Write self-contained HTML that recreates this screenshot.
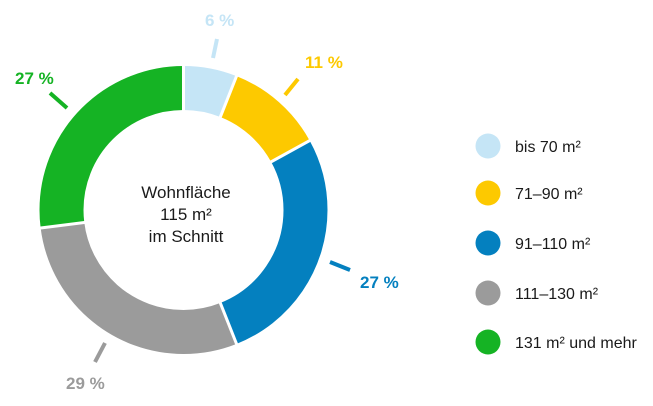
<!DOCTYPE html>
<html><head><meta charset="utf-8"><style>
body{margin:0;background:#fff;}
svg text{font-family:"Liberation Sans",sans-serif;}
</style></head><body>
<svg width="653" height="401" xmlns="http://www.w3.org/2000/svg">
<g transform="rotate(-90 183.5 210)" fill="none" stroke-width="44">
<circle cx="183.5" cy="210" r="122" stroke="#c5e5f6" stroke-dasharray="45.99 800" stroke-dashoffset="0"/>
<circle cx="183.5" cy="210" r="122" stroke="#fdc900" stroke-dasharray="84.32 800" stroke-dashoffset="-45.99"/>
<circle cx="183.5" cy="210" r="122" stroke="#0480bf" stroke-dasharray="206.97 800" stroke-dashoffset="-130.31"/>
<circle cx="183.5" cy="210" r="122" stroke="#9b9b9b" stroke-dasharray="222.3 800" stroke-dashoffset="-337.28"/>
<circle cx="183.5" cy="210" r="122" stroke="#15b324" stroke-dasharray="206.97 800" stroke-dashoffset="-559.58"/>
</g>
<g stroke="#fff" stroke-width="3">
<line x1="183.5" y1="210" x2="183.5" y2="60" transform="rotate(0 183.5 210)"/>
<line x1="183.5" y1="210" x2="183.5" y2="60" transform="rotate(21.6 183.5 210)"/>
<line x1="183.5" y1="210" x2="183.5" y2="60" transform="rotate(61.2 183.5 210)"/>
<line x1="183.5" y1="210" x2="183.5" y2="60" transform="rotate(158.4 183.5 210)"/>
<line x1="183.5" y1="210" x2="183.5" y2="60" transform="rotate(262.8 183.5 210)"/>
</g>
<circle cx="183.5" cy="210" r="99" fill="#fff"/>
<g stroke-width="4">
<line x1="213" y1="58" x2="217" y2="39" stroke="#c5e5f6"/>
<line x1="285" y1="95" x2="298" y2="79" stroke="#fdc900"/>
<line x1="330" y1="262" x2="350" y2="270" stroke="#0480bf"/>
<line x1="105" y1="343" x2="95" y2="362" stroke="#9b9b9b"/>
<line x1="50" y1="93" x2="67" y2="108" stroke="#15b324"/>
</g>
<g font-weight="bold" font-size="17">
<text x="205" y="26" fill="#c5e5f6">6 %</text>
<text x="305" y="68" fill="#fdc900">11 %</text>
<text x="360" y="288" fill="#0480bf">27 %</text>
<text x="66" y="389" fill="#9b9b9b">29 %</text>
<text x="15" y="84" fill="#15b324">27 %</text>
</g>
<g font-size="17" fill="#1a1a1a" text-anchor="middle">
<text x="186" y="198">Wohnfläche</text>
<text x="186" y="220">115 m²</text>
<text x="186" y="242">im Schnitt</text>
</g>
<circle cx="488" cy="146" r="12.5" fill="#c5e5f6"/>
<circle cx="488" cy="193" r="12.5" fill="#fdc900"/>
<circle cx="488" cy="243" r="12.5" fill="#0480bf"/>
<circle cx="488" cy="293" r="12.5" fill="#9b9b9b"/>
<circle cx="488" cy="342" r="12.5" fill="#15b324"/>
<g font-size="16" fill="#1a1a1a">
<text x="515" y="152">bis 70 m²</text>
<text x="515" y="199">71–90 m²</text>
<text x="515" y="249">91–110 m²</text>
<text x="515" y="299">111–130 m²</text>
<text x="515" y="348">131 m² und mehr</text>
</g>
</svg>
</body></html>
